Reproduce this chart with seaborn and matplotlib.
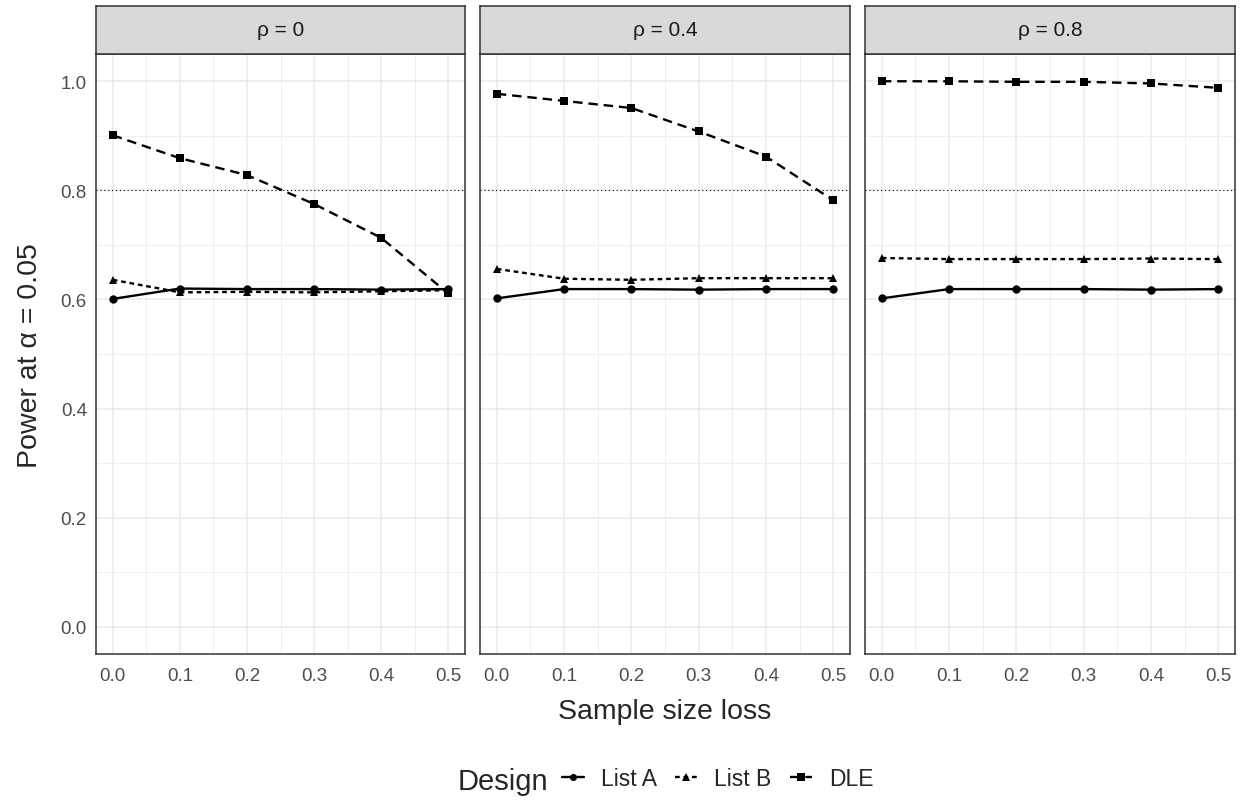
import numpy as np
import pandas as pd
import matplotlib
matplotlib.use("Agg")
import matplotlib.pyplot as plt
import seaborn as sns
from matplotlib.ticker import MultipleLocator, FormatStrFormatter

sns.set_theme(style="white")
plt.rcParams['font.family'] = ['Liberation Sans', 'DejaVu Sans']

loss = [0.0, 0.1, 0.2, 0.3, 0.4, 0.5]
designs = ["List A", "List B", "DLE"]
rho_labels = ["ρ = 0", "ρ = 0.4", "ρ = 0.8"]

rho0_listA = [0.601, 0.620, 0.619, 0.619, 0.618, 0.619]
rho0_listB = [0.636, 0.613, 0.614, 0.613, 0.615, 0.617]
rho0_dle = [0.901, 0.859, 0.828, 0.775, 0.713, 0.611]
rho04_listA = [0.602, 0.619, 0.619, 0.618, 0.619, 0.619]
rho04_listB = [0.656, 0.638, 0.636, 0.639, 0.639, 0.639]
rho04_dle = [0.977, 0.964, 0.951, 0.908, 0.862, 0.782]
rho08_listA = [0.602, 0.619, 0.619, 0.619, 0.618, 0.619]
rho08_listB = [0.676, 0.674, 0.674, 0.674, 0.675, 0.674]
rho08_dle = [1.000, 1.000, 0.999, 0.999, 0.996, 0.988]

series = {
    "ρ = 0": [rho0_listA, rho0_listB, rho0_dle],
    "ρ = 0.4": [rho04_listA, rho04_listB, rho04_dle],
    "ρ = 0.8": [rho08_listA, rho08_listB, rho08_dle],
}
rows = []
for rl in rho_labels:
    for d, vals in zip(designs, series[rl]):
        for x, v in zip(loss, vals):
            rows.append({"rho": rl, "Design": d, "loss": x, "power": v})
df = pd.DataFrame(rows)

W, H = 1244, 803
fig = plt.figure(figsize=(W / 100, H / 100), dpi=100)

panels_x = [(96, 465), (480, 850), (865, 1235)]
top, bottom = 55, 655
strip_top = 7

markers = {"List A": "o", "List B": "^", "DLE": "s"}
dashes = {"List A": "", "List B": (2, 1.6), "DLE": (4, 2.5)}
axes = []
for i, (rl, (x0, x1)) in enumerate(zip(rho_labels, panels_x)):
    ax = fig.add_axes([x0 / W, 1 - bottom / H, (x1 - x0) / W, (bottom - top) / H])
    axes.append(ax)
    sub = df[df["rho"] == rl]
    ax.axhline(0.8, color="black", lw=0.8, ls=(0, (1, 2.5)), zorder=1)
    sns.lineplot(data=sub, x="loss", y="power", style="Design", hue="Design",
                 palette={d: "black" for d in designs},
                 markers=markers, dashes=dashes, markersize=6, linewidth=1.7,
                 markeredgewidth=0, ax=ax, legend=(i == 0), zorder=3)
    ax.set_xlim(-0.025, 0.525)
    ax.set_ylim(-0.05, 1.05)
    ax.xaxis.set_major_locator(MultipleLocator(0.1))
    ax.xaxis.set_minor_locator(MultipleLocator(0.05))
    ax.yaxis.set_major_locator(MultipleLocator(0.2))
    ax.yaxis.set_minor_locator(MultipleLocator(0.1))
    ax.grid(True, which="major", color="#ebebeb", lw=1.1, zorder=0)
    ax.grid(True, which="minor", color="#ebebeb", lw=0.55, zorder=0)
    ax.set_axisbelow(True)
    for s in ax.spines.values():
        s.set_color("#333333")
        s.set_linewidth(1.1)
    ax.tick_params(axis="both", which="major", length=3.5, width=0.8, color="#333333",
                   labelsize=13.5, labelcolor="#4d4d4d", pad=3)
    ax.tick_params(axis="x", which="major", pad=6)
    ax.tick_params(axis="both", which="minor", length=0)
    ax.set_xticks(loss)
    ax.set_xticklabels([f"{v:.1f}" for v in loss])
    ax.set_xlabel("")
    ax.set_ylabel("")
    if i == 0:
        ax.yaxis.set_major_formatter(FormatStrFormatter("%.1f"))
    else:
        ax.tick_params(axis="y", which="both", left=False, labelleft=False)
    # strip
    sax = fig.add_axes([x0 / W, 1 - top / H, (x1 - x0) / W, (top - strip_top) / H])
    sax.set_facecolor("#d9d9d9")
    sax.set_xticks([]); sax.set_yticks([])
    for s in sax.spines.values():
        s.set_color("#333333")
        s.set_linewidth(1.1)
    sax.text(0.5, 0.5, rl, ha="center", va="center", fontsize=15, color="#1a1a1a",
             transform=sax.transAxes)

handles, labels = axes[0].get_legend_handles_labels()
axes[0].get_legend().remove()

fig.text(665 / W, 1 - 712 / H, "Sample size loss", ha="center", va="center", fontsize=20.5)
fig.text(30 / W, 1 - 356 / H, "Power at α = 0.05", ha="center", va="center",
         rotation=90, fontsize=20.5)

fig.text(458 / W, 1 - 782 / H, "Design", ha="left", va="center", fontsize=21)
fig.legend(handles, labels, loc="center left", bbox_to_anchor=(562 / W, 1 - 780 / H),
           ncol=3, frameon=False, fontsize=16.5, handlelength=0.95, handletextpad=0.75,
           columnspacing=0.8, borderpad=0, borderaxespad=0, markerscale=0.85)

fig.savefig("out.png", dpi=100)
